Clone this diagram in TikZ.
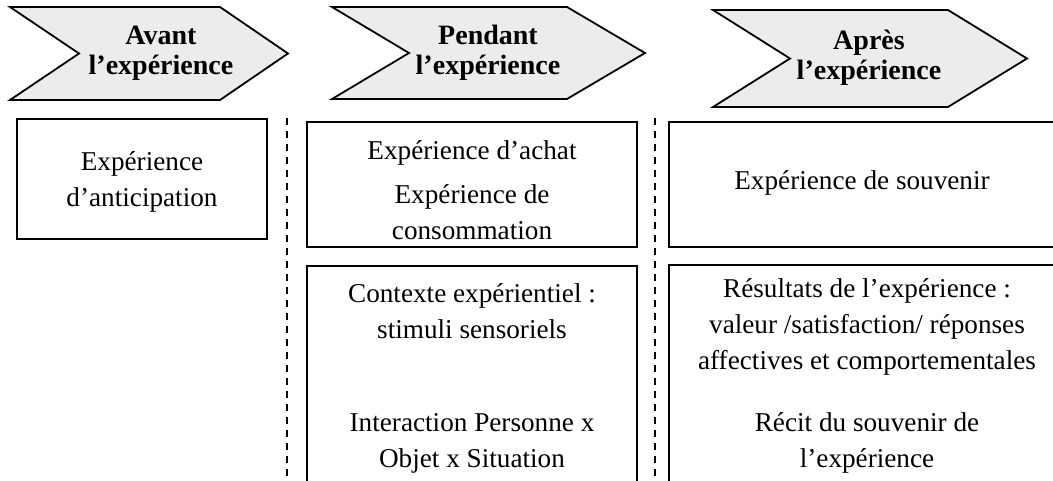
\documentclass[tikz,border=0pt]{standalone}
\usepackage{fontspec}
\setmainfont{Liberation Serif}

\begin{document}
\begin{tikzpicture}[
    x=0.5pt, y=-0.5pt,
    stagearrow/.style={draw=black, fill=gray!15, line width=0.9pt, line join=miter},
    stage/.style={font=\fontsize{14}{15}\selectfont\bfseries, align=center, inner sep=0pt},
    phasebox/.style={draw=black, line width=1pt, inner sep=0pt},
    phasetext/.style={font=\fontsize{13.6}{18}\selectfont, align=center, inner sep=0pt},
    separator/.style={line width=0.8pt, dash pattern=on 3.5pt off 3pt},
]
    \useasboundingbox (0,0) rectangle (1053,481);
    \clip (0,0) rectangle (1053,481);

    % Stage arrows (left, notch, body end, tip, top, bottom)
    \foreach \l/\n/\r/\t/\ya/\yb in {10/79/220/288/7/100, 332/409/567/645/7/99, 713/790/948/1027/10/107}
      \draw[stagearrow] (\l,\ya) -- (\r,\ya) -- (\t,{(\ya+\yb)/2}) -- (\r,\yb) -- (\l,\yb)
                        -- (\n,{(\ya+\yb)/2}) -- cycle;

    % Stage labels
    \node[stage] (avant)   at (161,53) {Avant\\l’expérience};
    \node[stage] (pendant) at (488,53) {Pendant\\l’expérience};
    \node[stage] (apres)   at (869,58) {Après\\l’expérience};

    % Separators between stages (dashed)
    \coordinate (sepAtop) at (287,118);
    \coordinate (sepAbot) at (287,481);
    \coordinate (sepBtop) at (655,118);
    \coordinate (sepBbot) at (655,481);
    \draw[separator] (sepAtop) -- (sepAbot);
    \draw[separator] (sepBtop) -- (sepBbot);

    % Boxes (the lower and right ones run off the page)
    \node[phasebox, minimum width=125pt,   minimum height=60pt]    (anticip)   at (142,179)     {};
    \node[phasebox, minimum width=165pt,   minimum height=62.5pt]  (achat)     at (472,184.5)   {};
    \node[phasebox, minimum width=205.5pt, minimum height=62.5pt]  (souvenir)  at (874.5,184.5) {};
    \node[phasebox, minimum width=165pt,   minimum height=117pt]   (contexte)  at (472,383)     {};
    \node[phasebox, minimum width=205.5pt, minimum height=117.5pt] (resultats) at (874.5,382.5) {};

    % Avant
    \node[phasetext] (anticiptxt) at (142,182) {Expérience\\d’anticipation};

    % Pendant
    \node[phasetext] (achattxt)  at (472,153) {Expérience d’achat};
    \node[phasetext] (consotxt)  at (472,212) {Expérience de\\consommation};
    \node[phasetext] (stimtxt)   at (472,311) {Contexte expérientiel :\\stimuli sensoriels};
    \node[phasetext] (interatxt) at (472,443) {Interaction Personne x\\Objet x Situation};

    % Après
    \node[phasetext] (souvtxt)  at (862,183) {Expérience de souvenir};
    \node[phasetext] (resutxt)  at (867,327) {Résultats de l’expérience :\\valeur /satisfaction/ réponses\\affectives et comportementales};
    \node[phasetext] (recittxt) at (867,443) {Récit du souvenir de\\l’expérience};
\end{tikzpicture}
\end{document}
